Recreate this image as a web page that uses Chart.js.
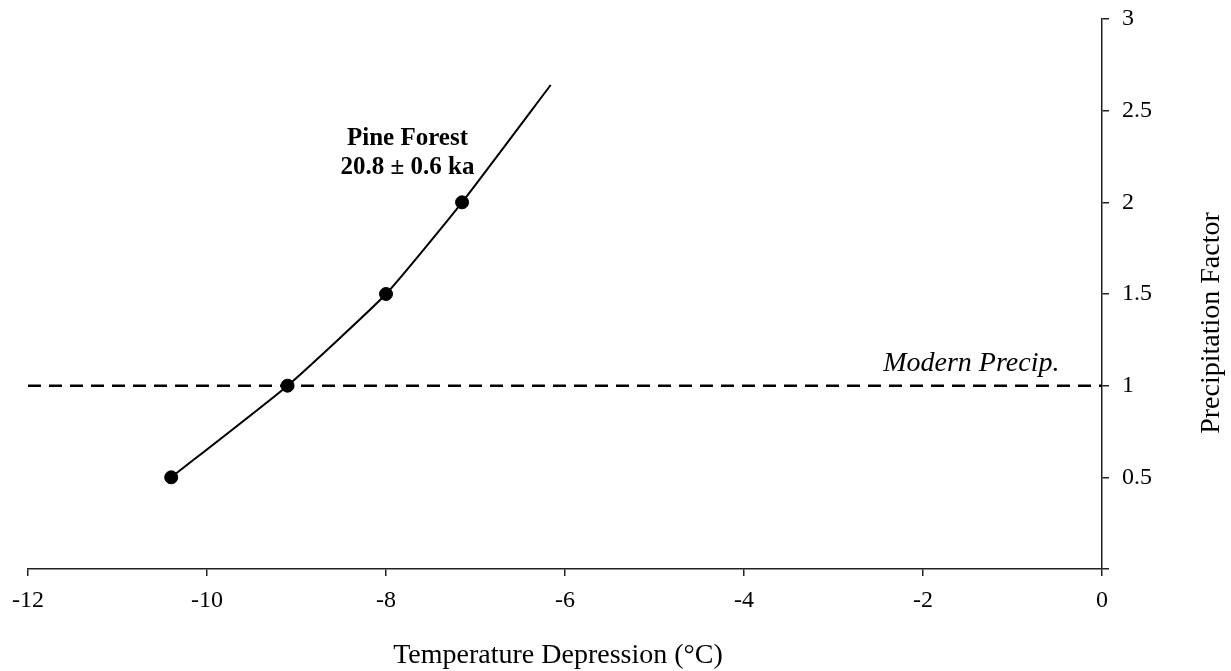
<!DOCTYPE html>
<html>
<head>
<meta charset="utf-8">
<script src="https://cdn.jsdelivr.net/npm/chart.js@4.4.1/dist/chart.umd.min.js"></script>
<style>
  html, body { margin: 0; padding: 0; background: #fff; }
  #wrap { width: 1231px; height: 671px; position: relative; }
</style>
</head>
<body>
<div id="wrap"><canvas id="grafico"></canvas></div>
<script>
// Datos
const tempDepresion = [-10.4, -9.1, -8.0, -7.15];
const factorPrecip = [0.5, 1.0, 1.5, 2.0];
// Curva ajustada (se prolonga más allá del último punto)
const curvaX = [-10.4, -9.1, -8.0, -7.15, -6.16];
const curvaY = [0.5, 1.0, 1.5, 2.0, 2.64];
const precipModerna = 1;
const ticksX = [-12, -10, -8, -6, -4, -2, 0];
const ticksY = [0.5, 1, 1.5, 2, 2.5, 3];

const fuente = '"Liberation Serif", "Times New Roman", serif';
Chart.defaults.font.family = fuente;
Chart.defaults.color = '#000';

// Textos sobre el gráfico y títulos de ejes (el del eje Y se lee de abajo hacia arriba)
const anotaciones = {
    id: 'anotaciones',
    afterDraw(chart) {
        const { ctx, scales: { x, y } } = chart;
        ctx.save();
        ctx.fillStyle = '#000';
        ctx.textAlign = 'center';
        ctx.textBaseline = 'middle';
        ctx.font = 'bold 25px ' + fuente;
        ctx.fillText('Pine Forest', x.getPixelForValue(-7.76), y.getPixelForValue(2.35));
        ctx.fillText('20.8 ± 0.6 ka', x.getPixelForValue(-7.76), y.getPixelForValue(2.19));
        ctx.font = 'italic 28px ' + fuente;
        ctx.fillText('Modern Precip.', x.getPixelForValue(-1.46), y.getPixelForValue(1.118));

        ctx.font = '28px ' + fuente;
        ctx.textBaseline = 'alphabetic';
        ctx.fillText('Temperature Depression (°C)', 558, 663);
        ctx.translate(1219, 323);
        ctx.rotate(-Math.PI / 2);
        ctx.fillText('Precipitation Factor', 0, 0);
        ctx.restore();
    }
};

const ctx = document.getElementById('grafico').getContext('2d');
new Chart(ctx, {
    type: 'scatter',
    data: {
        datasets: [
            {
                label: 'Modern Precip.',
                data: [{ x: ticksX[0], y: precipModerna }, { x: ticksX[ticksX.length - 1], y: precipModerna }],
                showLine: true,
                borderColor: '#000',
                borderWidth: 2.5,
                borderDash: [13, 8],
                pointRadius: 0
            },
            {
                label: 'Curva',
                data: curvaX.map((v, i) => ({ x: v, y: curvaY[i] })),
                showLine: true,
                borderColor: '#000',
                borderWidth: 2,
                tension: 0.15,
                pointRadius: 0
            },
            {
                label: 'Pine Forest',
                data: tempDepresion.map((v, i) => ({ x: v, y: factorPrecip[i] })),
                backgroundColor: '#000',
                borderColor: '#000',
                pointRadius: 6.5
            }
        ]
    },
    options: {
        responsive: true,
        maintainAspectRatio: false,
        animation: false,
        layout: { padding: { left: 28, right: 0, top: 19, bottom: 0 } },
        plugins: {
            legend: { display: false },
            tooltip: { enabled: false }
        },
        scales: {
            x: {
                type: 'linear',
                position: 'bottom',
                min: -12,
                max: 0,
                afterBuildTicks: (s) => { s.ticks = ticksX.map(v => ({ value: v })); },
                afterFit: (s) => { s.height = 102; s.paddingLeft = 0; s.paddingRight = 0; },
                grid: { drawOnChartArea: false, drawTicks: true, tickLength: 7, color: '#222', lineWidth: 1.5 },
                border: { display: true, color: '#222', width: 1.5 },
                ticks: { font: { size: 24 }, padding: 10, color: '#000', maxRotation: 0 }
            },
            y: {
                type: 'linear',
                position: 'right',
                min: 0,
                max: 3,
                afterBuildTicks: (s) => { s.ticks = [0].concat(ticksY).map(v => ({ value: v })); },
                afterFit: (s) => { s.width = 129; s.paddingTop = 0; s.paddingBottom = 0; },
                grid: { drawOnChartArea: false, drawTicks: true, tickLength: 7, color: '#222', lineWidth: 1.5 },
                border: { display: true, color: '#222', width: 1.5 },
                ticks: {
                    font: { size: 24 },
                    padding: 13,
                    color: '#000',
                    callback: (v) => v === 0 ? '' : String(v)
                }
            }
        }
    },
    plugins: [anotaciones]
});
</script>
</body>
</html>
